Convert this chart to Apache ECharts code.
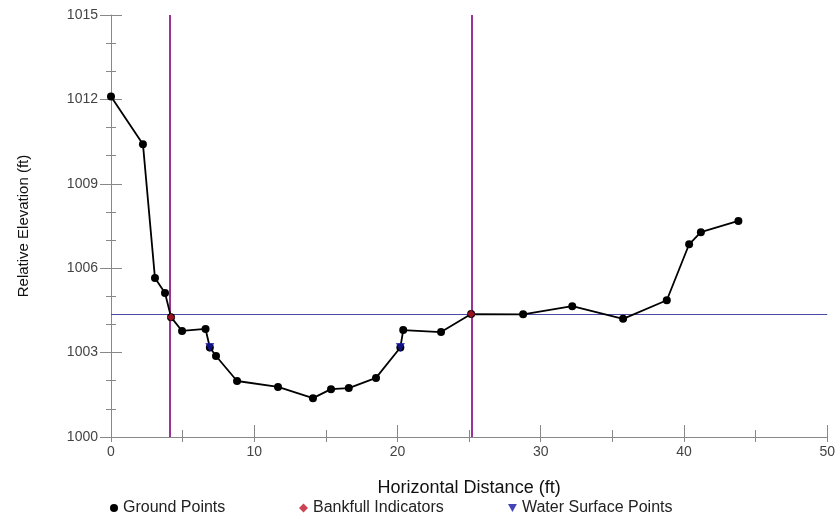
<!DOCTYPE html>
<html>
<head>
<meta charset="utf-8">
<script src="https://cdn.jsdelivr.net/npm/echarts@6/dist/echarts.min.js"></script>
<style>
  html, body { margin: 0; padding: 0; background: #fff; }
  #chart { width: 838px; height: 518px; }
</style>
</head>
<body>
<div id="chart"></div>
<script>
// cross-section survey, values
const groundX = [0, 2.23, 3.07, 3.77, 4.19, 4.96, 6.6, 6.9, 7.33, 8.8, 11.66, 14.1, 15.36, 16.6, 18.5, 20.2, 20.4, 23.04, 25.14, 28.77, 32.2, 35.75, 38.8, 40.36, 41.18, 43.8];
const groundY = [1012.1, 1010.41, 1005.65, 1005.12, 1004.26, 1003.77, 1003.84, 1003.18, 1002.88, 1001.99, 1001.78, 1001.38, 1001.7, 1001.74, 1002.1, 1003.18, 1003.8, 1003.73, 1004.37, 1004.36, 1004.65, 1004.2, 1004.86, 1006.85, 1007.28, 1007.68];
const bankfullX = [4.19, 25.14];
const bankfullY = [1004.26, 1004.37];
const waterX = [6.9, 20.2];
const waterY = [1003.18, 1003.18];
const bankStations = [4.12, 25.16];
const bankfullElev = 1004.37;
const xTicks = { min: 0, max: 50, step: 10 };
const yTicks = { min: 1000, max: 1015, step: 3 };

const pairs = (xs, ys) => xs.map((x, i) => [x, ys[i]]);
const font = "'Liberation Sans', Arial, sans-serif";
const tickColor = "#888";

const chart = echarts.init(document.getElementById("chart"));

const legendText = { fontFamily: font, fontSize: 16, color: "#222" };

const option = {
  animation: false,
  grid: { left: 111, right: 10, top: 15, bottom: 81 },
  legend: [
    { left: 110, top: 500, padding: 0, itemWidth: 8, itemHeight: 8, textStyle: legendText, data: [{ name: "Ground Points", icon: "circle" }] },
    { left: 299, top: 500, padding: 0, itemWidth: 9, itemHeight: 9, textStyle: legendText, data: ["Bankfull Indicators"] },
    {
      left: 508, top: 500, padding: 0, itemWidth: 9, itemHeight: 8, textStyle: legendText,
      data: [{ name: "Water Surface Points", icon: "path://M0,0L10,0L5,9Z" }],
    },
  ],
  xAxis: [
    {
      type: "value",
      min: xTicks.min,
      max: xTicks.max,
      interval: xTicks.step,
      name: "Horizontal Distance (ft)",
      nameLocation: "middle",
      nameGap: 42,
      nameTextStyle: { fontFamily: font, fontSize: 18, color: "#111" },
      axisLine: { show: true, lineStyle: { color: tickColor, width: 1 } },
      axisTick: { show: true, length: 5, lineStyle: { color: tickColor } },
      minorTick: { show: true, splitNumber: 2, length: 5, lineStyle: { color: tickColor } },
      axisLabel: { fontFamily: font, fontSize: 14, color: "#444", margin: 8 },
      splitLine: { show: false },
    },
    {
      type: "value",
      position: "bottom",
      min: xTicks.min,
      max: xTicks.max,
      interval: xTicks.step,
      axisLine: { show: false },
      axisTick: { show: true, inside: true, length: 12, lineStyle: { color: tickColor } },
      minorTick: { show: true, splitNumber: 2, length: 7, lineStyle: { color: tickColor } },
      axisLabel: { show: false },
      splitLine: { show: false },
    },
  ],
  yAxis: [
    {
      type: "value",
      min: yTicks.min,
      max: yTicks.max,
      interval: yTicks.step,
      name: "Relative Elevation (ft)",
      nameLocation: "middle",
      nameGap: 80,
      nameTextStyle: { fontFamily: font, fontSize: 15, color: "#111" },
      axisLine: { show: true, lineStyle: { color: tickColor, width: 1 } },
      axisTick: { show: true, length: 11, lineStyle: { color: tickColor } },
      minorTick: { show: true, splitNumber: 3, length: 5, lineStyle: { color: tickColor } },
      axisLabel: { fontFamily: font, fontSize: 14, color: "#444", margin: 13, formatter: (v) => String(v) },
      splitLine: { show: false },
    },
    {
      type: "value",
      position: "left",
      min: yTicks.min,
      max: yTicks.max,
      interval: yTicks.step,
      axisLine: { show: false },
      axisTick: { show: true, inside: true, length: 11, lineStyle: { color: tickColor } },
      minorTick: { show: true, splitNumber: 3, length: 5, lineStyle: { color: tickColor } },
      axisLabel: { show: false },
      splitLine: { show: false },
    },
  ],
  series: [
    {
      name: "Ground Points",
      type: "line",
      data: pairs(groundX, groundY),
      color: "#000",
      symbol: "circle",
      symbolSize: 8,
      lineStyle: { color: "#000", width: 1.8 },
      itemStyle: { color: "#000" },
      z: 3,
      markLine: {
        silent: true,
        symbol: "none",
        label: { show: false },
        data: [
          ...bankStations.map((x) => ({ xAxis: x, lineStyle: { color: "#993399", width: 2, type: "solid" } })),
          { yAxis: bankfullElev, lineStyle: { color: "#4a4aa6", width: 1.2, type: "solid" } },
        ],
        z: 2,
      },
    },
    {
      name: "Bankfull Indicators",
      type: "scatter",
      data: pairs(bankfullX, bankfullY),
      symbol: "diamond",
      symbolSize: 8,
      itemStyle: { color: "#c0142c" },
      z: 4,
    },
    {
      name: "Water Surface Points",
      type: "scatter",
      data: pairs(waterX, waterY),
      symbol: "triangle",
      symbolRotate: 180,
      symbolSize: 9,
      itemStyle: { color: "#1515a8" },
      z: 5,
    },
  ],
};

chart.setOption(option);
</script>
</body>
</html>
